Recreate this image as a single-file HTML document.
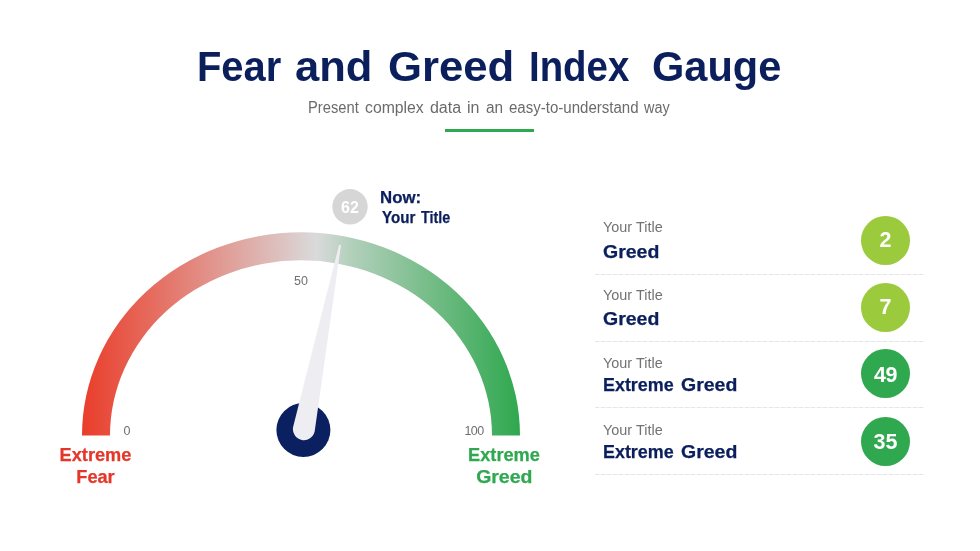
<!DOCTYPE html>
<html lang="en">
<head>
<meta charset="utf-8">
<title>Fear and Greed Index Gauge</title>
<style>
  html, body { margin: 0; padding: 0; background: #ffffff; }
  body { width: 980px; height: 551px; position: relative; overflow: hidden;
         font-family: "Liberation Sans", sans-serif; }
  .abs { position: absolute; white-space: nowrap; line-height: 1; }
  .navy { color: #0b1f5c; }
  .grey { color: #6b6b6b; }
  .b { font-weight: bold; }
  .sx { transform-origin: 0 0; }
  #title { left: 0; top: 45.8px; width: 980px; height: 43px; font-size: 42.5px; }
  #title span { position: absolute; top: 0; transform-origin: 0 0; white-space: nowrap; }
  #sub { left: 0; top: 99.9px; width: 980px; height: 17px; font-size: 16px; }
  #sub span { position: absolute; top: 0; transform-origin: 0 0; white-space: nowrap; }
  #rule { left: 445px; top: 129px; width: 89px; height: 3px; background: #2fa84f; }
  .lbl { font-size: 12.5px; color: #6f6f6f; }
  .end { font-size: 18.2px; text-align: center; line-height: 22.5px; -webkit-text-stroke: 0.25px currentColor; }
  .row-t { left: 603px; font-size: 15.2px; transform: scaleX(0.951); transform-origin: 0 0; color: #727272; }
  .row-b { left: 602.6px; font-size: 18.9px; transform-origin: 0 0; -webkit-text-stroke: 0.25px #0b1f5c; }
  .row-b .w { position: absolute; left: 0; top: 0; transform-origin: 0 0; }
  .dash { left: 595px; width: 329px; height: 1px; background: repeating-linear-gradient(90deg, #e6e6ea 0, #e6e6ea 4px, #f6f6f8 4px, #f6f6f8 6px); }
  .dot { width: 49px; height: 49px; border-radius: 50%; left: 861px; color: #fff; font-size: 21.5px;
         text-align: center; line-height: 49px; font-weight: bold; }
  .lime { background: #9bcb3c; }
  .green { background: #2fa84f; }
</style>
</head>
<body>
<div id="title" class="abs navy b"><span style="left:196.7px;transform:scaleX(0.938)">Fear</span> <span style="left:295px;transform:scaleX(1.024)">and</span> <span style="left:387.7px;transform:scaleX(1.028)">Greed</span> <span style="left:528.5px;transform:scaleX(0.903)">Index</span> <span style="left:652.4px;transform:scaleX(0.978)">Gauge</span></div>
<div id="sub" class="abs grey"><span style="left:307.6px;transform:scaleX(0.920)">Present</span> <span style="left:365.1px;transform:scaleX(0.986)">complex</span> <span style="left:429.9px;transform:scaleX(1.000)">data</span> <span style="left:466.9px;transform:scaleX(1.000)">in</span> <span style="left:486.1px;transform:scaleX(0.960)">an</span> <span style="left:509.4px;transform:scaleX(0.940)">easy-to-understand</span> <span style="left:644.3px;transform:scaleX(0.900)">way</span></div>
<div id="rule" class="abs"></div>

<svg class="abs" style="left:0;top:0" width="980" height="551" viewBox="0 0 980 551">
  <defs>
    <linearGradient id="g" gradientUnits="userSpaceOnUse" x1="82" y1="0" x2="520" y2="0">
      <stop offset="0" stop-color="#ea3d2a"/>
      <stop offset="0.535" stop-color="#dadadb"/>
      <stop offset="0.612" stop-color="#b3d0bc"/>
      <stop offset="0.74" stop-color="#88c297"/>
      <stop offset="1" stop-color="#2fa84f"/>
    </linearGradient>
  </defs>
  <path d="M82 435.5 A219 203.2 0 0 1 520 435.5 L492 435.5 A191 175.2 0 0 0 110 435.5 Z" fill="url(#g)"/>
  <circle cx="303.4" cy="430" r="27" fill="#0b2060"/>
  <g transform="translate(303.9 429.2) rotate(11.1)">
    <path d="M-11 0 A11 11 0 0 0 11 0 L1 -187 A1 1 0 0 0 -1 -187 Z" fill="#eeedf2"/>
  </g>
  <circle cx="350" cy="206.8" r="17.7" fill="#d6d6d6"/>
</svg>

<div class="abs b" style="left:332px;width:36px;text-align:center;top:200px;font-size:16px;color:#fff;">62</div>
<div class="abs navy b sx" style="left:380.1px;top:189.2px;font-size:16.1px;transform:scaleX(1.045);-webkit-text-stroke:0.25px #0b1f5c;">Now:</div>
<div class="abs navy b" style="left:381.9px;top:209px;font-size:16.1px;width:70px;height:17px;-webkit-text-stroke:0.25px #0b1f5c;"><span class="abs sx" style="left:0;top:0;transform:scaleX(0.94);">Your</span> <span class="abs sx" style="left:39.2px;top:0;transform:scaleX(0.894);">Title</span></div>

<div class="abs lbl" style="left:294px;top:275px;">50</div>
<div class="abs lbl" style="left:123.5px;top:424.5px;">0</div>
<div class="abs lbl" style="left:464.5px;top:424.5px;letter-spacing:-0.6px;">100</div>

<div class="abs end b" style="left:45.5px;width:100px;top:443.5px;color:#e4372a;">Extreme<br>Fear</div>
<div class="abs end b" style="left:454px;width:100px;top:443.5px;color:#2fa84f;">Extreme<br><span style="display:inline-block;transform:scaleX(1.07);">Greed</span></div>

<div class="abs row-t" style="top:218.7px;">Your Title</div>
<div class="abs row-b navy b" style="top:242.9px;font-size:18px;transform:scaleX(1.084);">Greed</div>
<div class="abs dot lime" style="top:216px;">2</div>
<div class="abs dash" style="top:274px;"></div>

<div class="abs row-t" style="top:286.9px;">Your Title</div>
<div class="abs row-b navy b" style="top:310.4px;font-size:18px;transform:scaleX(1.084);">Greed</div>
<div class="abs dot lime" style="top:282.5px;">7</div>
<div class="abs dash" style="top:341px;"></div>

<div class="abs row-t" style="top:355.2px;">Your Title</div>
<div class="abs row-b navy b" style="top:376.4px;font-size:18.4px;"><span class="w" style="transform:scaleX(0.974);">Extreme</span> <span class="w" style="left:78.7px;transform:scaleX(1.06);">Greed</span></div>
<div class="abs dot green" style="top:349px;line-height:53px;letter-spacing:-0.5px;">49</div>
<div class="abs dash" style="top:407px;"></div>

<div class="abs row-t" style="top:422px;">Your Title</div>
<div class="abs row-b navy b" style="top:443.4px;font-size:18.4px;"><span class="w" style="transform:scaleX(0.974);">Extreme</span> <span class="w" style="left:78.7px;transform:scaleX(1.06);">Greed</span></div>
<div class="abs dot green" style="top:417px;line-height:50px;">35</div>
<div class="abs dash" style="top:474px;"></div>
</body>
</html>
